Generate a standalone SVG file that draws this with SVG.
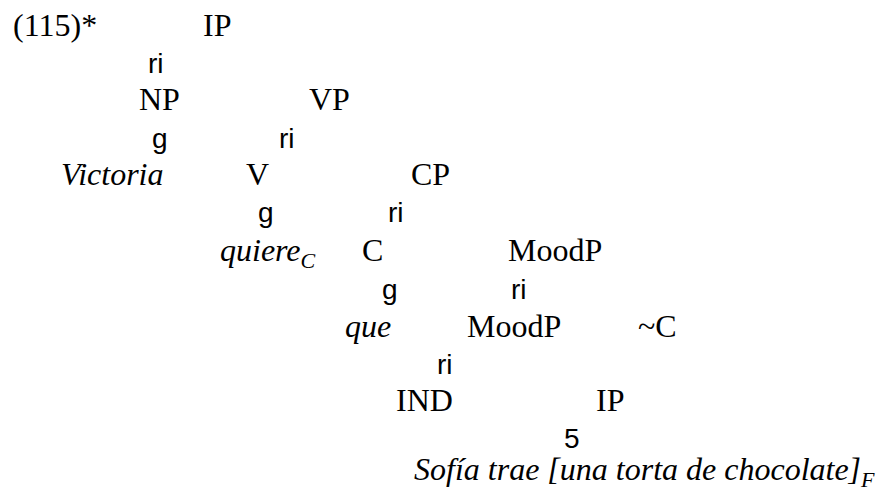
<svg xmlns="http://www.w3.org/2000/svg" width="883" height="491" viewBox="0 0 883 491">
<style>
.n{font-family:"Liberation Serif","Times New Roman",serif;font-size:32px;fill:#000}
.i{font-style:italic}
.g{font-family:"Liberation Sans",Arial,sans-serif;font-size:28px;fill:#000}
.s{font-size:22px}
</style>
<rect width="883" height="491" fill="#fff"/>
<g id="label"><text class="n" x="13" y="36">(115)*</text></g>
<g id="IP1"><text class="n" x="203" y="36">IP</text></g>
<g id="NP"><text class="n" x="139" y="110">NP</text></g>
<g id="VP"><text class="n" x="309" y="110">VP</text></g>
<g id="Victoria"><text class="n i" x="61" y="185">Victoria</text></g>
<g id="V"><text class="n" x="246" y="185">V</text></g>
<g id="CP"><text class="n" x="411" y="185">CP</text></g>
<g id="quiere"><text class="n i" x="220" y="261">quiere<tspan class="s" dy="7">C</tspan></text></g>
<g id="C"><text class="n" x="362" y="261">C</text></g>
<g id="MoodP1"><text class="n" x="508" y="261">MoodP</text></g>
<g id="que"><text class="n i" x="345" y="337">que</text></g>
<g id="MoodP2"><text class="n" x="467" y="337">MoodP</text></g>
<g id="notC"><text class="n" x="638" y="337">~C</text></g>
<g id="IND"><text class="n" x="396" y="411">IND</text></g>
<g id="IP2"><text class="n" x="596" y="411">IP</text></g>
<g id="Sofia"><text class="n i" x="414" y="480">Sofía trae [una torta de chocolate]<tspan class="s" dy="7">F</tspan></text></g>
<g id="connectors">
<text class="g" x="148" y="73">ri</text>
<text class="g" x="152" y="148">g</text>
<text class="g" x="279" y="148">ri</text>
<text class="g" x="258" y="222">g</text>
<text class="g" x="388" y="222">ri</text>
<text class="g" x="382" y="299">g</text>
<text class="g" x="511" y="299">ri</text>
<text class="g" x="437" y="374">ri</text>
<text class="g" x="564" y="448">5</text>
</g>
</svg>
